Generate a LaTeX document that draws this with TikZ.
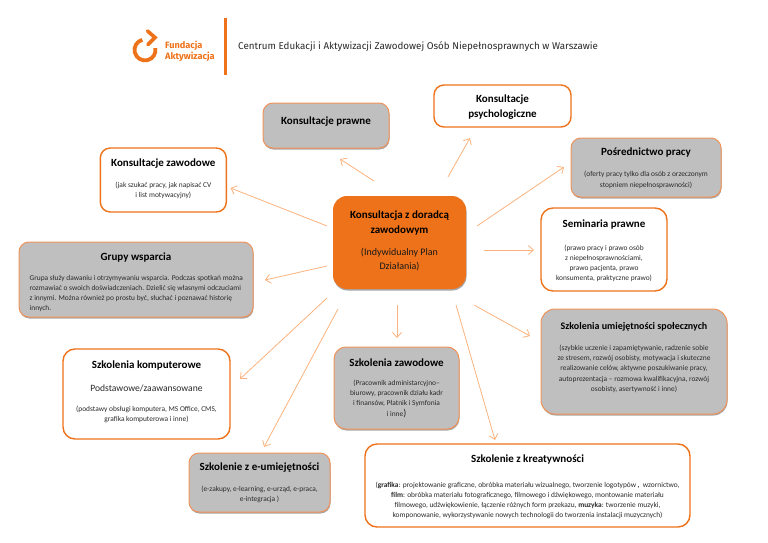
\documentclass[tikz,border=0pt]{standalone}
\usepackage{fontspec}
\setmainfont{Carlito}
\newfontfamily\hdr{Fira Sans}
\usetikzlibrary{shadows,arrows.meta}
\definecolor{fa}{HTML}{EE7219}
\definecolor{fl}{HTML}{F0935A}
\definecolor{gb}{HTML}{BFBFBF}
\definecolor{al}{HTML}{FBB27E}
\definecolor{tx}{HTML}{2A2A2A}
\tikzset{
 boxbase/.style={rectangle,rounded corners=10pt,inner sep=0pt,outer sep=0pt},
 whitebox/.style={boxbase,draw=fa,line width=1.4pt,fill=white},
 graybox/.style={boxbase,draw=fl,line width=1pt,fill=gb,drop shadow={shadow xshift=0.5pt,shadow yshift=-1.5pt,opacity=.35,fill=black}},
 centerbox/.style={boxbase,rounded corners=14pt,fill=fa,drop shadow={shadow xshift=0.5pt,shadow yshift=-1.5pt,opacity=.35,fill=black}},
 ttl/.style={font=\fontsize{11}{15.3}\selectfont\bfseries,align=center,text=black,inner sep=0pt,yshift=-1.2pt},
 sm/.style={font=\fontsize{7.4}{10.2}\selectfont,align=center,text=tx,inner sep=0pt,yshift=-0.8pt},
 med/.style={font=\fontsize{10}{14}\selectfont,align=center,text=tx,inner sep=0pt,yshift=-0.8pt},
 arr/.style={draw=al,line width=.8pt,-{Straight Barb[length=5pt,width=9pt,line width=.8pt]}}
}
\begin{document}
\begin{tikzpicture}[x=1pt,y=-1pt]
\useasboundingbox (0,0) rectangle (768,543);
% header
\draw[fa,line width=3.8pt] (142.3,39.8) arc[start angle=105,delta angle=265,radius=10.5pt];
\draw[fa,line width=3.6pt,line cap=round,line join=miter] (147.5,31) -- (155,37.5) -- (148,44.5);
\node[inner sep=0pt,anchor=west,text=fa,align=left,font=\hdr\fontsize{9.2}{11.5}\selectfont\bfseries] (logotext) at (165,51.5) {Fundacja\\Aktywizacja};
\fill[fa] (224,18) rectangle (226.6,74.5);
\node[inner sep=0pt,anchor=west,text=tx,font=\hdr\fontsize{9.8}{11}\selectfont] (head) at (238,47) {Centrum Edukacji i Aktywizacji Zawodowej Osób Niepełnosprawnych w Warszawie};
% boxes
\node[graybox,minimum width=126pt,minimum height=45pt] (prawne) at (326,125.5) {};
\node[whitebox,minimum width=126pt,minimum height=64pt] (zawod) at (163.3,180) {};
\node[graybox,minimum width=234pt,minimum height=75pt] (grupy) at (136,279.5) {};
\node[centerbox,minimum width=133pt,minimum height=93pt] (center) at (399.5,242.5) {};
\node[whitebox,minimum width=137pt,minimum height=42pt] (psych) at (502.5,106) {};
\node[graybox,minimum width=150pt,minimum height=59pt] (posr) at (646,167.5) {};
\node[whitebox,rounded corners=12pt,minimum width=126pt,minimum height=83pt] (semin) at (604,249.5) {};
\node[graybox,rounded corners=14pt,minimum width=186pt,minimum height=105pt] (spol) at (634,361.5) {};
\node[graybox,rounded corners=12pt,minimum width=125pt,minimum height=82pt] (szaw) at (396.5,388) {};
\node[whitebox,rounded corners=12pt,minimum width=325pt,minimum height=83pt] (kreat) at (527.5,485.5) {};
\node[whitebox,rounded corners=12pt,minimum width=167pt,minimum height=90pt] (komp) at (146.5,394) {};
\node[graybox,minimum width=141pt,minimum height=59pt] (eum) at (259.5,482.5) {};
% texts
\node[ttl] (t1) at (326,120) {Konsultacje prawne};
\node[ttl] (t2) at (163.3,162.5) {Konsultacje zawodowe};
\node[sm] (t2b) at (163.3,189.5) {(jak szukać pracy, jak napisać CV\\i list motywacyjny)};
\node[ttl] (t3) at (136,256.5) {Grupy wsparcia};
\node[sm,anchor=north west,align=left] (t3b) at (29.5,274) {Grupa służy dawaniu i otrzymywaniu wsparcia. Podczas spotkań można\\rozmawiać o swoich doświadczeniach. Dzielić się własnymi odczuciami\\z innymi. Można również po prostu być, słuchać i poznawać historię\\innych.};
\node[ttl] (t4) at (399.5,221.5) {Konsultacja z doradcą\\zawodowym};
\node[med,text=black!90] (t4b) at (399.5,259) {(Indywidualny Plan\\Działania)};
\node[ttl] (t5) at (502.5,106) {Konsultacje\\psychologiczne};
\node[ttl] (t6) at (646,151.5) {Pośrednictwo pracy};
\node[sm] (t6b) at (646,179) {(oferty pracy tylko dla osób z orzeczonym\\stopniem niepełnosprawności)};
\node[ttl] (t7) at (604,223.5) {Seminaria prawne};
\node[sm] (t7b) at (604,262.5) {(prawo pracy i prawo osób\\z niepełnosprawnościami,\\prawo pacjenta, prawo\\konsumenta, praktyczne prawo)};
\node[ttl,font=\fontsize{10}{12}\selectfont\bfseries] (t8) at (634,325.5) {Szkolenia umiejętności społecznych};
\node[sm] (t8b) at (634,368) {(szybkie uczenie i zapamiętywanie, radzenie sobie\\ze stresem, rozwój osobisty, motywacja i skuteczne\\realizowanie celów, aktywne poszukiwanie pracy,\\autoprezentacja – rozmowa kwalifikacyjna, rozwój\\osobisty, asertywność i inne)};
\node[ttl] (t9) at (396.5,361) {Szkolenia zawodowe};
\node[sm] (t9b) at (396.5,398) {(Pracownik administarcyjno–\\biurowy, pracownik działu kadr\\i finansów, Płatnik i Symfonia\\i inne{\fontsize{10}{10}\selectfont)}};
\node[ttl] (t10) at (527.5,458.5) {Szkolenie z kreatywności};
\node[sm] (t10b) at (527.5,499.5) {(\textbf{grafika}: projektowanie graficzne, obróbka materiału wizualnego, tworzenie logotypów\,{\fontsize{9}{9}\selectfont,}\ \ wzornictwo,\\\textbf{film}: obróbka materiału fotograficznego, filmowego i dźwiękowego, montowanie materiału\\filmowego, udźwiękowienie, łączenie różnych form przekazu, \textbf{muzyka}: tworzenie muzyki,\\komponowanie, wykorzystywanie nowych technologii do tworzenia instalacji muzycznych)};
\node[ttl] (t11) at (146.5,364.5) {Szkolenia komputerowe};
\node[med,font=\fontsize{9.6}{12}\selectfont] (t11b) at (146.5,388) {Podstawowe/zaawansowane};
\node[sm] (t11c) at (146.5,414) {(podstawy obsługi komputera, MS Office, CMS,\\grafika komputerowa i inne)};
\node[ttl] (t12) at (259.5,466.5) {Szkolenie z e-umiejętności};
\node[sm] (t12b) at (259.5,494) {(e-zakupy, e-learning, e-urząd, e-praca,\\e-integracja )};
% connector ends
\coordinate (a1) at (374,181); \coordinate (b1) at (340,159);
\coordinate (a2) at (327,226); \coordinate (b2) at (230.5,188);
\coordinate (a3) at (327,266); \coordinate (b3) at (265,280);
\coordinate (a4) at (327,298); \coordinate (b4) at (240,379);
\coordinate (a5) at (338,309); \coordinate (b5) at (264,447);
\coordinate (a6) at (397,305); \coordinate (b6) at (397,338);
\coordinate (a7) at (456,305); \coordinate (b7) at (495,440);
\coordinate (a8) at (474,305); \coordinate (b8) at (530,336);
\coordinate (a9) at (484,250); \coordinate (b9) at (534,250);
\coordinate (a10) at (477,226); \coordinate (b10) at (564,167);
\coordinate (a11) at (448,177); \coordinate (b11) at (470,138);
\foreach \i in {1,...,11}{\draw[arr] (a\i) -- (b\i);}
\end{tikzpicture}
\end{document}
